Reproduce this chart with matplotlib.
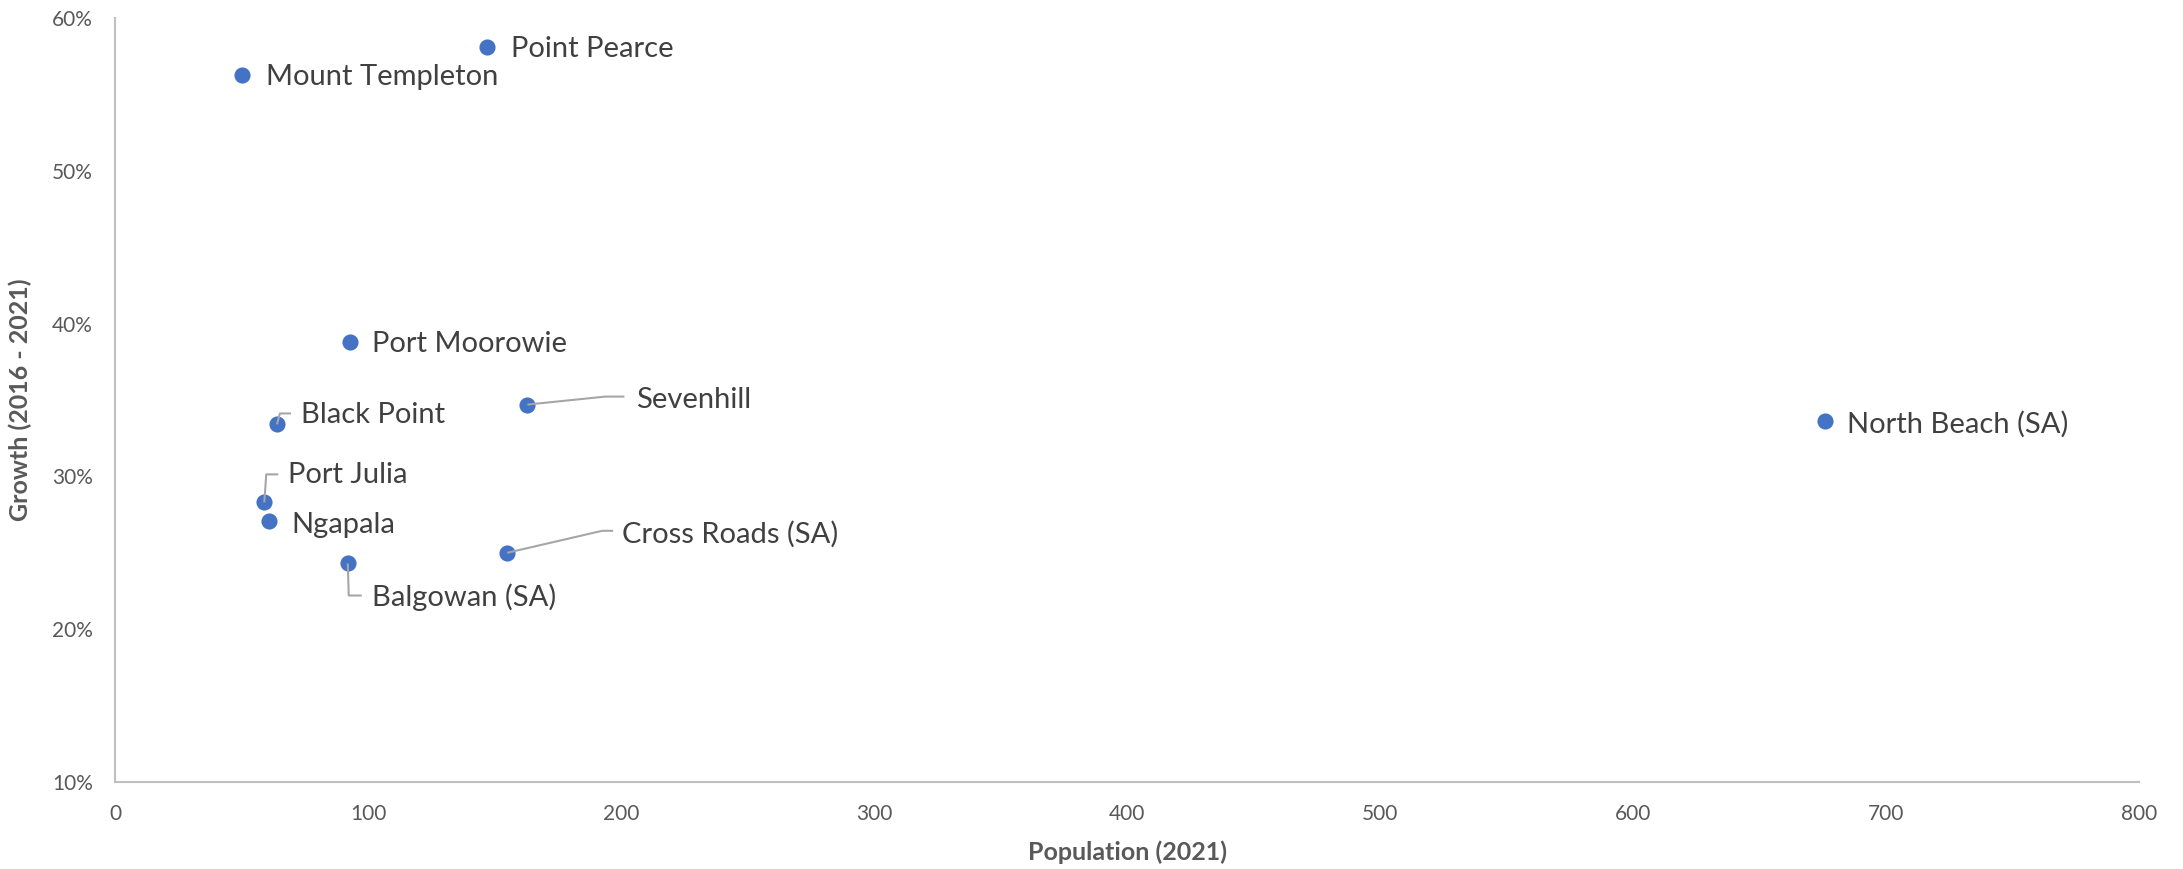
import matplotlib
matplotlib.use("Agg")
import matplotlib.pyplot as plt
from matplotlib.ticker import FuncFormatter, MultipleLocator

# Localities: population at the 2021 census and growth since 2016
towns = ["Point Pearce", "Mount Templeton", "Port Moorowie", "Sevenhill",
         "Black Point", "Port Julia", "Ngapala", "Balgowan (SA)",
         "Cross Roads (SA)", "North Beach (SA)"]
population = [147, 50, 93, 163, 64, 59, 61, 92, 155, 676]
growth = [58.1, 56.3, 38.8, 34.7, 33.4, 28.3, 27.1, 24.3, 25.0, 33.6]

FONT = "Lato"
BLUE = "#4472C4"
TXT = "#404040"
TICK = "#595959"
AXIS = "#BFBFBF"
LEADER = "#A6A6A6"

fig = plt.figure(figsize=(21.83, 8.69), dpi=100)
ax = fig.add_axes([115 / 2183, 87 / 869, 2024 / 2183, 764 / 869])
ax.set_xlim(0, 800)
ax.set_ylim(10, 60)

ax.scatter(population, growth, s=135, color=BLUE, zorder=3, linewidths=0)

# label placement (pixel offsets from the point) and optional elbow leaders
label_style = {
    "Point Pearce": dict(off=(24, -2)),
    "Mount Templeton": dict(off=(24, -2)),
    "Port Moorowie": dict(off=(22, -2)),
    "Ngapala": dict(off=(22, -4)),
    "North Beach (SA)": dict(off=(22, -3)),
    "Sevenhill": dict(off=(109, 5), leader=[(78, 8), (97, 8)]),
    "Black Point": dict(off=(24, 9), leader=[(3, 11), (14, 11)]),
    "Port Julia": dict(off=(24, 27), leader=[(2, 28), (14, 28)]),
    "Cross Roads (SA)": dict(off=(115, 19), leader=[(95, 22), (106, 22)]),
    "Balgowan (SA)": dict(off=(24, -34), leader=[(1, -32), (14, -32)]),
}

for name, x, y in zip(towns, population, growth):
    st = label_style[name]
    ax.annotate(name, (x, y), xytext=st["off"], textcoords="offset pixels",
                ha="left", va="center", fontsize=21, color=TXT,
                family=FONT, zorder=4)
    if "leader" in st:
        px, py = ax.transData.transform((x, y))
        inv = ax.transData.inverted()
        pts = [(px, py)] + [(px + dx, py + dy) for dx, dy in st["leader"]]
        data_pts = inv.transform(pts)
        ax.plot(data_pts[:, 0], data_pts[:, 1], color=LEADER, lw=1.5,
                zorder=3.5, solid_capstyle="butt", scalex=False, scaley=False)

ax.xaxis.set_major_locator(MultipleLocator(100))
ax.yaxis.set_major_locator(MultipleLocator(10))
ax.yaxis.set_major_formatter(FuncFormatter(lambda v, p: f"{v:.0f}%"))

for side in ("top", "right"):
    ax.spines[side].set_visible(False)
for side in ("left", "bottom"):
    ax.spines[side].set_color(AXIS)
    ax.spines[side].set_linewidth(1.5)

ax.tick_params(length=0, labelsize=15, labelcolor=TICK, pad=16)
for lbl in ax.get_xticklabels() + ax.get_yticklabels():
    lbl.set_family(FONT)

ax.set_xlabel("Population (2021)", fontsize=18, fontweight="bold",
              color=TICK, family=FONT, labelpad=12)
ax.set_ylabel("Growth (2016 - 2021)", fontsize=18, fontweight="bold",
              color=TICK, family=FONT, labelpad=14)

fig.savefig("out.png", dpi=100, facecolor="white")
